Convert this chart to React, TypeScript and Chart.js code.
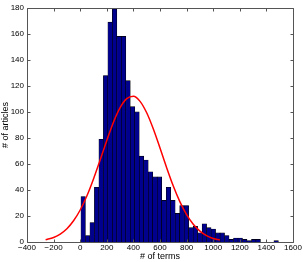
import React, { useEffect, useRef } from "react";
import { Chart, registerables } from "chart.js";

Chart.register(...registerables);

// Histogram bins (centre of each bin, # of terms)
const binCenters = [
  22.4, 56.1, 89.9, 123.6, 157.4, 191.1, 224.9, 258.6, 292.3, 326.1,
  359.8, 393.6, 427.3, 461.1, 494.8, 528.6, 562.3, 596.0, 629.8, 663.5,
  697.3, 731.0, 764.8, 798.5, 832.3, 866.0, 899.7, 933.5, 967.2, 1001.0,
  1034.7, 1068.5, 1102.2, 1135.9, 1169.7, 1203.4, 1237.2, 1270.9, 1304.7, 1338.4,
  1372.2, 1405.9, 1439.6, 1473.4,
];
// Number of articles in each bin
const articleCounts = [
  35, 5, 15, 42, 79, 128, 169, 179, 158, 158,
  124, 104, 100, 66, 63, 54, 50, 50, 32, 42,
  32, 22, 28, 28, 11, 12, 7, 14, 11, 10,
  7, 7, 5, 2, 3, 3, 2, 1, 2, 2,
  0, 0, 0, 1,
];
// Fitted curve
const curveX = [
  -260, -200, -150, -100, -50, 0, 50, 100, 150, 200, 250, 300, 350, 400,
  450, 500, 550, 600, 650, 700, 750, 800, 850, 900, 950, 1000, 1050,
];
const curveY = [
  1.7, 3.5, 6.1, 10.2, 16.3, 24.6, 35.4, 48.5, 63.1, 78.1, 92.1, 103.3, 110.2, 112,
  108.1, 99.3, 86.8, 72.2, 57.1, 43, 30.8, 21, 13.6, 8.4, 4.9, 2.7, 1.5,
];
const xTicks = [-400, -200, 0, 200, 400, 600, 800, 1000, 1200, 1400, 1600];
const yTicks = [0, 20, 40, 60, 80, 100, 120, 140, 160, 180];

const FONT = "'Liberation Sans', Arial, Helvetica, sans-serif";

const framePlugin = {
  id: "frame",
  afterDraw(chart: any) {
    const { ctx, chartArea: a, scales } = chart;
    const xs = scales.x;
    const ys = scales.y;
    ctx.save();
    ctx.strokeStyle = "#555555";
    ctx.lineWidth = 1;
    ctx.beginPath();
    const L = Math.round(a.left) + 0.5;
    const R = Math.round(a.right) + 0.5;
    const T = Math.round(a.top) + 0.5;
    const B = Math.round(a.bottom) + 0.5;
    ctx.rect(L, T, R - L, B - T);
    const tl = 3;
    for (const v of xTicks) {
      const px = Math.round(xs.getPixelForValue(v)) + 0.5;
      ctx.moveTo(px, B);
      ctx.lineTo(px, B - tl);
      ctx.moveTo(px, T);
      ctx.lineTo(px, T + tl);
    }
    for (const v of yTicks) {
      const py = Math.round(ys.getPixelForValue(v)) + 0.5;
      ctx.moveTo(L, py);
      ctx.lineTo(L + tl, py);
      ctx.moveTo(R, py);
      ctx.lineTo(R - tl, py);
    }
    ctx.stroke();
    ctx.restore();
  },
};

export default function App() {
  const ref = useRef<HTMLCanvasElement | null>(null);

  useEffect(() => {
    if (!ref.current) return;
    const chart = new Chart(ref.current, {
      type: "bar",
      data: {
        datasets: [
          {
            type: "bar",
            data: binCenters.map((x, i) => ({ x, y: articleCounts[i] })),
            backgroundColor: "#00008F",
            borderColor: "#000000",
            borderWidth: 0.6,
            barPercentage: 1,
            categoryPercentage: 1,
            order: 2,
          } as any,
          {
            type: "line",
            data: curveX.map((x, i) => ({ x, y: curveY[i] })),
            borderColor: "#FF0000",
            borderWidth: 1.5,
            pointRadius: 0,
            tension: 0.4,
            cubicInterpolationMode: "monotone",
            fill: false,
            order: 1,
          } as any,
        ],
      },
      options: {
        responsive: false,
        animation: false,
        events: [],
        layout: { padding: { left: 0, right: 12, top: 5, bottom: 0 } },
        plugins: {
          legend: { display: false },
          tooltip: { enabled: false },
        },
        scales: {
          x: {
            type: "linear",
            min: -400,
            max: 1600,
            offset: false,
            afterFit: (s: any) => {
              s.height = 20;
            },
            afterBuildTicks: (s: any) => {
              s.ticks = xTicks.map((v) => ({ value: v }));
            },
            grid: { display: false, drawTicks: false },
            border: { display: false },
            ticks: {
              padding: 1,
              maxRotation: 0,
              autoSkip: false,
              color: "#000",
              font: { family: FONT, size: 8 },
              callback: (v: any) => String(v).replace("-", "\u2212"),
            },
            title: {
              display: true,
              text: "# of terms",
              color: "#000",
              font: { family: FONT, size: 9 },
              padding: { top: 0, bottom: 0 },
            },
          },
          y: {
            type: "linear",
            min: 0,
            max: 180,
            afterFit: (s: any) => {
              s.width = 27;
            },
            afterBuildTicks: (s: any) => {
              s.ticks = yTicks.map((v) => ({ value: v }));
            },
            grid: { display: false, drawTicks: false },
            border: { display: false },
            ticks: {
              padding: 3,
              autoSkip: false,
              color: "#000",
              font: { family: FONT, size: 8 },
            },
            title: {
              display: true,
              text: "# of articles",
              color: "#000",
              font: { family: FONT, size: 9 },
              padding: { top: 0, bottom: 0 },
            },
          },
        },
      },
      plugins: [framePlugin],
    });
    return () => chart.destroy();
  }, []);

  return (
    <div style={{ position: "absolute", left: 0, top: 0, width: 305, height: 262, background: "#fff" }}>
      <canvas ref={ref} width={305} height={262} style={{ width: 305, height: 262, display: "block" }} />
    </div>
  );
}
